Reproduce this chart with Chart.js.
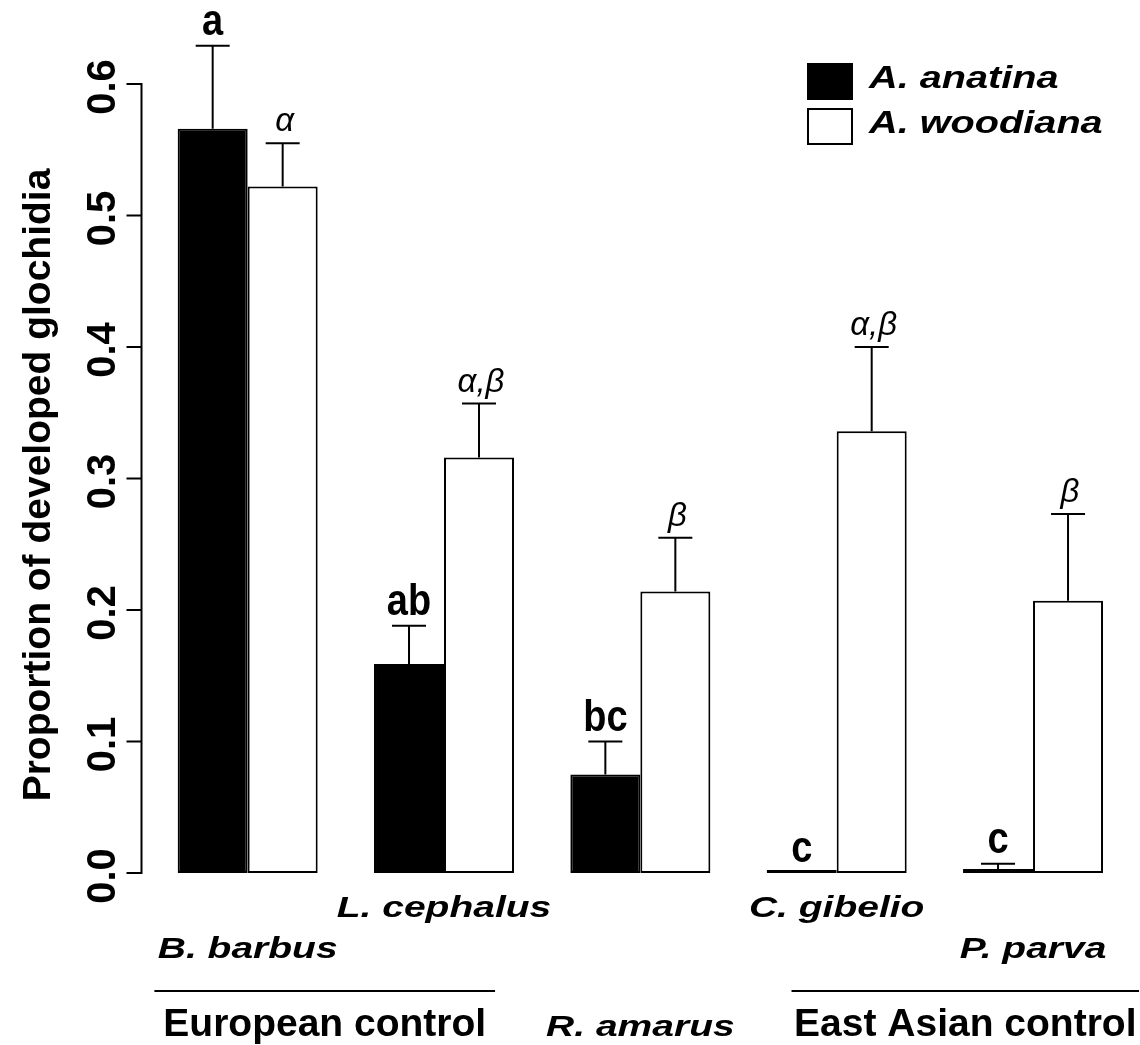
<!DOCTYPE html>
<html>
<head>
<meta charset="utf-8">
<script src="https://cdn.jsdelivr.net/npm/chart.js@4/dist/chart.umd.min.js"></script>
<style>
  html, body { margin: 0; padding: 0; background: #fff; }
  canvas { display: block; }
</style>
</head>
<body>
<canvas id="chart" width="1140" height="1045"></canvas>
<script>
// Host fish species, in plotting order
const species = ['B. barbus', 'L. cephalus', 'R. amarus', 'C. gibelio', 'P. parva'];
// Which text line under the axis each species name sits on
const speciesRow = [2, 1, 3, 1, 2];

// Proportion of developed glochidia (mean) and standard error
const anatinaMean  = [0.566, 0.159, 0.075, 0.000, 0.003];
const anatinaSE    = [0.063, 0.029, 0.025, 0.000, 0.004];
const woodianaMean = [0.522, 0.316, 0.214, 0.336, 0.207];
const woodianaSE   = [0.033, 0.041, 0.041, 0.064, 0.066];

// Homogeneous groups (post-hoc letters)
const anatinaLetters  = ['a', 'ab', 'bc', 'c', 'c'];
const woodianaLetters = ['\u03B1', '\u03B1,\u03B2', '\u03B2', '\u03B1,\u03B2', '\u03B2'];

// Y axis ticks
const yTicks      = [0, 0.1, 0.2, 0.3, 0.4, 0.5, 0.6];
const yTickLabels = ['0.0', '0.1', '0.2', '0.3', '0.4', '0.5', '0.6'];

// Control groups underlined beneath the species names
const controlGroups = ['European control', 'East Asian control'];
const controlSpan   = [[0, 1], [3, 4]];

const FONT = '"Liberation Sans", Arial, Helvetica, sans-serif';

function txt(ctx, s, x, y, font, o = {}) {
  ctx.save();
  ctx.translate(x, y);
  if (o.rot) ctx.rotate(o.rot);
  ctx.scale(o.sx || 1, o.sy || 1);
  ctx.font = font;
  ctx.fillStyle = '#000';
  ctx.textAlign = o.align || 'center';
  ctx.textBaseline = o.baseline || 'alphabetic';
  ctx.fillText(s, 0, 0);
  ctx.restore();
}

const decorations = {
  id: 'decorations',
  afterDatasetsDraw(chart) {
    const ctx = chart.ctx;
    const xs = chart.scales.x;
    const ys = chart.scales.y;
    const catW = xs.getPixelForValue(1) - xs.getPixelForValue(0);

    ctx.save();
    ctx.strokeStyle = '#000';
    ctx.lineWidth = 2;
    ctx.lineCap = 'butt';

    // error bars and group letters
    const sets = [
      { mean: anatinaMean, se: anatinaSE, letters: anatinaLetters, greek: false },
      { mean: woodianaMean, se: woodianaSE, letters: woodianaLetters, greek: true }
    ];
    sets.forEach((s, di) => {
      const meta = chart.getDatasetMeta(di);
      meta.data.forEach((bar, i) => {
        const x = bar.x;
        const yBar = ys.getPixelForValue(s.mean[i]);
        const yTop = ys.getPixelForValue(s.mean[i] + s.se[i]);
        if (s.se[i] > 0) {
          ctx.beginPath();
          ctx.moveTo(x, yBar);
          ctx.lineTo(x, yTop);
          ctx.moveTo(x - 17, yTop);
          ctx.lineTo(x + 17, yTop);
          ctx.stroke();
        }
        if (s.greek) {
          txt(ctx, s.letters[i], x + 2, yTop - 12, 'italic 33px ' + FONT);
        } else {
          txt(ctx, s.letters[i], x, yTop - 11, 'bold 38px ' + FONT, { sy: 1.15 });
        }
      });
    });

    // y axis (R style: line spans the tick range only, detached from bars)
    const axX = chart.chartArea.left - 8;
    const y0 = ys.getPixelForValue(yTicks[0]);
    const y1 = ys.getPixelForValue(yTicks[yTicks.length - 1]);
    ctx.beginPath();
    ctx.moveTo(axX, y0 + 1);
    ctx.lineTo(axX, y1 - 1);
    yTicks.forEach((v) => {
      const py = ys.getPixelForValue(v);
      ctx.moveTo(axX + 1, py);
      ctx.lineTo(axX - 15, py);
    });
    ctx.stroke();
    yTicks.forEach((v, i) => {
      const py = ys.getPixelForValue(v);
      txt(ctx, yTickLabels[i], axX - 27, py + 3, 'bold 40px ' + FONT, { rot: -Math.PI / 2 });
    });

    // y axis title
    txt(ctx, 'Proportion of developed glochidia', 50, 485, 'bold 39px ' + FONT, { rot: -Math.PI / 2 });

    // species names, staggered on three lines
    const rowBase = { 1: 917, 2: 958, 3: 1036 };
    species.forEach((name, i) => {
      const x = xs.getPixelForValue(i);
      txt(ctx, name, x, rowBase[speciesRow[i]], 'italic bold 30px ' + FONT, { sx: 1.3 });
    });

    // control group underline + caption
    controlGroups.forEach((g, k) => {
      const [a, b] = controlSpan[k];
      const xa = xs.getPixelForValue(a) - (k === 0 ? 0.475 : 0.23) * catW;
      const xb = xs.getPixelForValue(b) + (k === 0 ? 0.26 : 0.54) * catW;
      ctx.beginPath();
      ctx.moveTo(xa, 991);
      ctx.lineTo(xb, 991);
      ctx.stroke();
      txt(ctx, g, (xa + xb) / 2, 1036, 'bold 39px ' + FONT);
    });

    // legend
    chart.data.datasets.forEach((ds, i) => {
      const top = 63 + i * 45;
      ctx.fillStyle = ds.backgroundColor;
      ctx.fillRect(807, top, 46, 37);
      ctx.strokeRect(808, top + 1, 44, 35);
      txt(ctx, ds.label, 869, top + 25, 'italic bold 32px ' + FONT, { sx: 1.24, align: 'left' });
    });

    ctx.restore();
  }
};

new Chart(document.getElementById('chart'), {
  type: 'bar',
  data: {
    labels: species,
    datasets: [
      {
        label: 'A. anatina',
        data: anatinaMean,
        backgroundColor: '#000',
        borderColor: '#000',
        borderWidth: 2,
        borderSkipped: false,
        minBarLength: 3,
        categoryPercentage: 0.713,
        barPercentage: 1.0
      },
      {
        label: 'A. woodiana',
        data: woodianaMean,
        backgroundColor: '#fff',
        borderColor: '#000',
        borderWidth: 2,
        borderSkipped: false,
        categoryPercentage: 0.713,
        barPercentage: 1.0
      }
    ]
  },
  options: {
    responsive: false,
    animation: false,
    devicePixelRatio: 1,
    layout: { padding: { left: 149.5, right: 8.8, top: 84, bottom: 172 } },
    plugins: { legend: { display: false }, tooltip: { enabled: false } },
    scales: {
      x: { display: false, offset: true, grid: { display: false } },
      y: { display: false, min: 0, max: 0.6, grid: { display: false } }
    }
  },
  plugins: [decorations]
});
</script>
</body>
</html>
